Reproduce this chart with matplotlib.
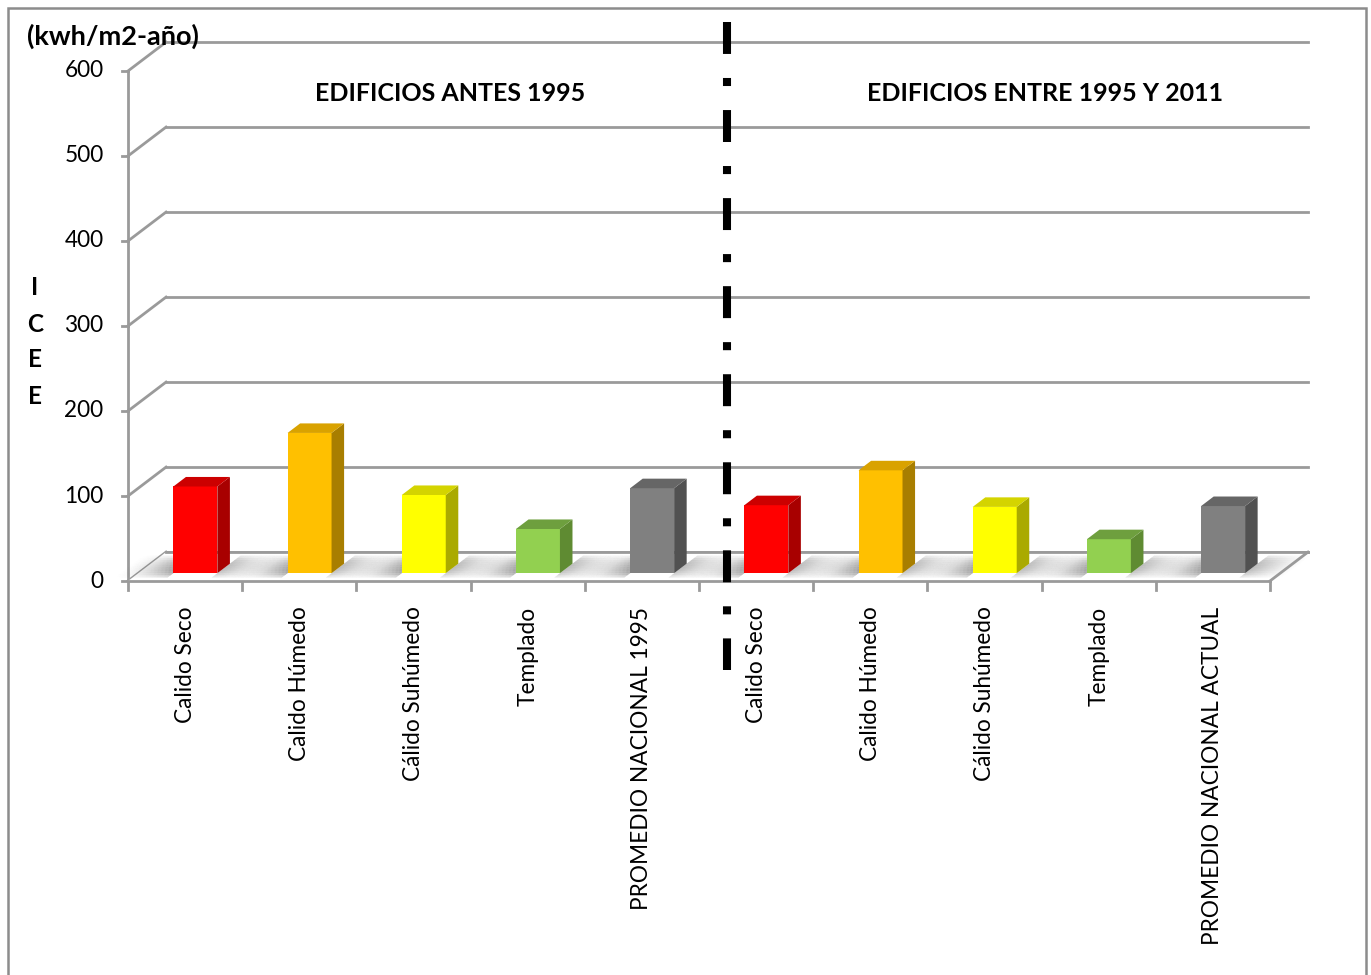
import numpy as np
import matplotlib
matplotlib.use("Agg")
import matplotlib.pyplot as plt
from matplotlib.patches import Polygon, Rectangle
from matplotlib.collections import PolyCollection

plt.rcParams['font.family'] = ['Lato', 'DejaVu Sans']
plt.rcParams['lines.scale_dashes'] = False

# ICEE per climate zone, two building periods
cats_antes = ["Calido Seco", "Calido Húmedo", "Cálido Suhúmedo", "Templado",
              "PROMEDIO NACIONAL 1995"]
vals_antes = [102, 165, 92, 52, 100]
cats_entre = ["Calido Seco", "Calido Húmedo", "Cálido Suhúmedo", "Templado",
              "PROMEDIO NACIONAL ACTUAL"]
vals_entre = [80, 121, 78, 40, 79]

front_cols = ["#FF0000", "#FFC000", "#FFFF00", "#92D050", "#808080"]
side_cols = ["#A80000", "#A87E00", "#AAAA00", "#5F8B32", "#515151"]
top_cols = ["#CC0000", "#D9A200", "#D4D400", "#6E9F3E", "#666666"]

yticks = [0, 100, 200, 300, 400, 500, 600]

categories = cats_antes + cats_entre
values = vals_antes + vals_entre
n = len(categories)

# oblique depth offset of the 3d box (category units, value units)
DX = 0.333
DY = 34.0
f0, f1 = 0.27, 0.60   # depth range occupied by the bars
bw = 0.385


def floor_pt(u, d):
    # point on the floor: u along the category axis, d = depth fraction
    return (u + d * DX, d * DY)


fig = plt.figure(figsize=(13.71, 9.75), dpi=100)
ax = fig.add_axes([0, 0, 1, 1])
ax.axis('off')

# outer frame
fig.patches.append(Rectangle((8 / 1371, -0.05), 1358 / 1371, 1.05 - 8 / 975,
                             transform=fig.transFigure, fill=False,
                             ec='#8c8c8c', lw=1.8))

grid_c = '#9a9a9a'
# back wall gridlines and left wall
for v in yticks:
    ax.plot([DX, n + DX], [v + DY, v + DY], color=grid_c, lw=2, zorder=1)
    ax.plot([0, DX], [v, v + DY], color=grid_c, lw=2, zorder=1)
    ax.plot([-0.055, 0], [v, v], color=grid_c, lw=2, zorder=1)
    ax.text(-0.215, v, str(v), ha='right', va='center', fontsize=16.3)
ax.plot([0, 0], [0, yticks[-1]], color=grid_c, lw=2, zorder=1)

# floor
ax.add_patch(Polygon([(0, 0), (n, 0), (n + DX, DY), (DX, DY)], closed=True,
                     fc='white', ec='none', zorder=1.5))
ax.plot([0, n], [0, 0], color=grid_c, lw=2, zorder=4)
ax.plot([n, n + DX], [0, DY], color=grid_c, lw=2, zorder=4)
ax.plot([DX, n + DX], [DY, DY], color=grid_c, lw=2, zorder=1.6)
for i in range(n + 1):
    ax.plot([i, i], [0, -10.6], color=grid_c, lw=2, zorder=1)

# soft shadows on the floor either side of each bar
nu, nd = 40, 10
d_edges = np.linspace(0.12, 0.88, nd + 1)
d_mid = 0.5 * (d_edges[:-1] + d_edges[1:])
d_prof = np.sin(np.pi * (d_mid - 0.12) / 0.76) ** 0.6
polys, alphas = [], []
for i in range(n):
    ul = i + 0.5 - bw / 2
    ur = i + 0.5 + bw / 2
    for side, (a, b, amax, p) in enumerate([(ul - 0.48, ul, 0.8, 1.6),
                                            (ur, ur + 0.38, 0.5, 1.3)]):
        u_edges = np.linspace(a, b, nu + 1)
        for k in range(nu):
            s = (k + 0.5) / nu
            w = s ** p if side == 0 else (1 - s) ** p
            for j in range(nd):
                u1, u2 = u_edges[k], u_edges[k + 1]
                d1, d2 = d_edges[j], d_edges[j + 1]
                polys.append([floor_pt(u1, d1), floor_pt(u2, d1),
                              floor_pt(u2, d2), floor_pt(u1, d2)])
                alphas.append(amax * w * d_prof[j])
cols = np.zeros((len(alphas), 4))
cols[:, :3] = 0.4
cols[:, 3] = alphas
ax.add_collection(PolyCollection(polys, facecolors=cols, edgecolors='none',
                                 zorder=2))

# bars: front face from bar(), side and top faces from the same values
x0 = np.arange(n) + 0.5 + f0 * DX
ddx = (f1 - f0) * DX
ddy = (f1 - f0) * DY
for i, v in enumerate(values):
    c = i % 5
    ax.bar(x0[i], v, width=bw, bottom=f0 * DY, color=front_cols[c],
           edgecolor='none', zorder=5)
    xl = x0[i] - bw / 2
    xr = x0[i] + bw / 2
    b = f0 * DY
    t = f0 * DY + v
    ax.add_patch(Polygon([(xr, b), (xr + ddx, b + ddy), (xr + ddx, t + ddy),
                          (xr, t)], closed=True, fc=side_cols[c], ec='none',
                         zorder=5))
    ax.add_patch(Polygon([(xl, t), (xr, t), (xr + ddx, t + ddy),
                          (xl + ddx, t + ddy)], closed=True, fc=top_cols[c],
                         ec='none', zorder=5))

# category labels
for i, lab in enumerate(categories):
    ax.text(i + 0.5, -30, lab, rotation=90, ha='center', va='top',
            fontsize=16.3)

# headings and axis title
ax.text(-0.884, 641, "(kwh/m2-año)", ha='left', va='center', fontsize=19.5,
        fontweight='bold')
ax.text(2.82, 574, "EDIFICIOS ANTES 1995", ha='center', va='center',
        fontsize=18, fontweight='bold')
ax.text(8.03, 574, "EDIFICIOS ENTRE 1995 Y 2011", ha='center', va='center',
        fontsize=18, fontweight='bold')
for ch, yy in zip("ICEE", [344.7, 301.2, 260, 217.6]):
    ax.text(-0.814, yy, ch, ha='center', va='center', fontsize=17.5,
            fontweight='bold')

# period separator
ln, = ax.plot([5.245, 5.245], [657.6, -105], color='black', lw=5.8,
              zorder=8)
ln.set_dashes([23.0, 17.3, 5.8, 17.3])
ln.set_dash_capstyle('butt')

ax.set_xlim(-1.121, 10.885)
ax.set_ylim(-463.5, 683.5)

fig.savefig('out.png', dpi=100)
